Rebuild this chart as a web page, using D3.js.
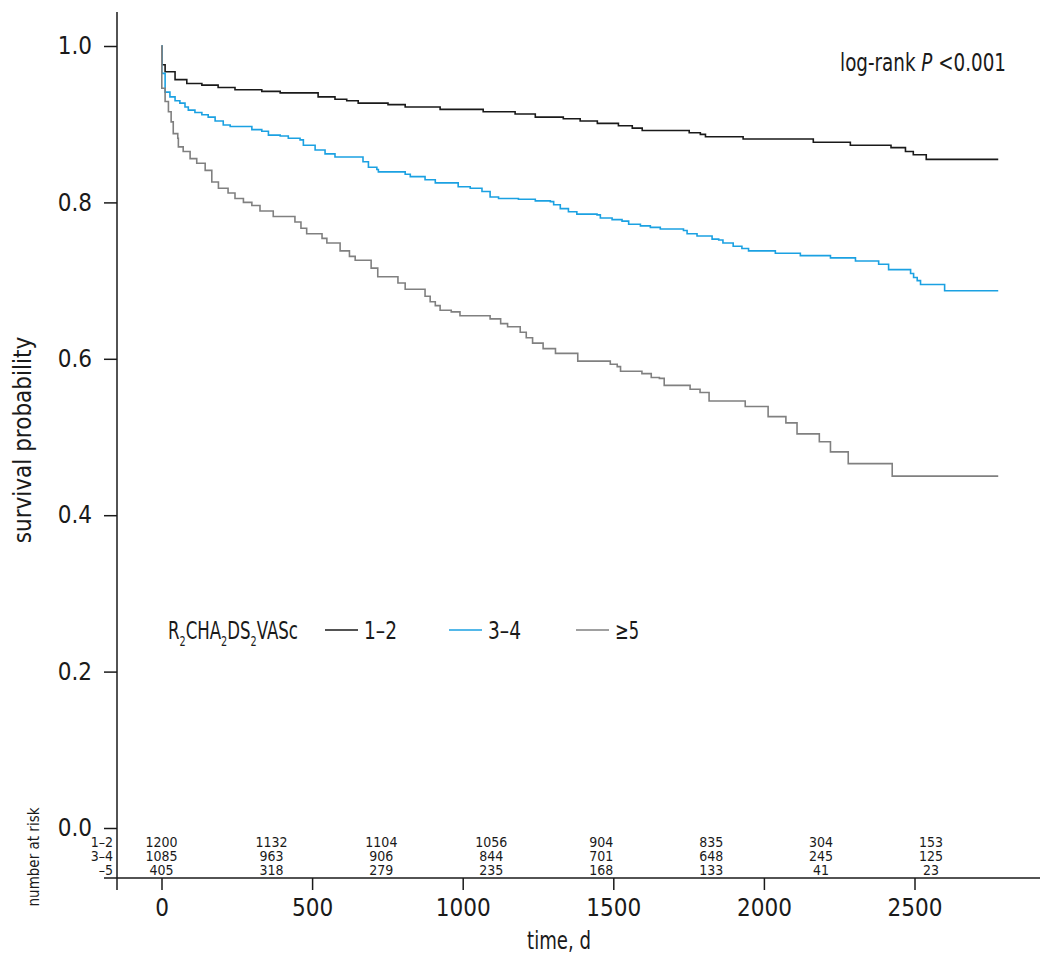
<!DOCTYPE html>
<html>
<head>
<meta charset="utf-8">
<script src="https://cdn.jsdelivr.net/npm/d3@7"></script>
<style>
  body { margin: 0; background: #fff; }
  text { font-family: "Liberation Sans Narrow", "DejaVu Sans Condensed", sans-serif; fill: #1a1a1a; }
</style>
</head>
<body>
<script>
// Kaplan-Meier curves by R2CHA2DS2VASc group

// [time in days, survival] step points
var group12 = [[0,1],[1,0.976],[12,0.967],[45,0.957],[84,0.952],[134,0.950],[188,0.947],[244,0.944],
  [333,0.942],[394,0.940],[520,0.935],[576,0.932],[615,0.930],[653,0.927],[752,0.925],[809,0.922],
  [925,0.919],[1068,0.916],[1174,0.913],[1241,0.909],[1334,0.907],[1390,0.904],[1447,0.901],
  [1517,0.898],[1563,0.895],[1596,0.892],[1752,0.889],[1789,0.887],[1806,0.884],[1931,0.881],
  [2164,0.877],[2287,0.873],[2422,0.870],[2470,0.865],[2496,0.861],[2539,0.855],[2778,0.855]];

var group34 = [[0,1],[1,0.965],[12,0.941],[28,0.935],[45,0.930],[61,0.927],[78,0.922],[89,0.918],
  [111,0.915],[134,0.912],[155,0.909],[178,0.904],[205,0.899],[228,0.897],[300,0.893],[333,0.891],
  [355,0.886],[394,0.885],[421,0.882],[460,0.880],[471,0.873],[510,0.867],[543,0.862],[576,0.858],
  [669,0.852],[687,0.845],[715,0.842],[720,0.839],[809,0.836],[826,0.833],[875,0.829],[909,0.825],
  [985,0.820],[1025,0.818],[1064,0.814],[1091,0.807],[1119,0.805],[1185,0.804],[1241,0.802],
  [1291,0.801],[1302,0.797],[1324,0.792],[1351,0.788],[1379,0.785],[1446,0.784],[1457,0.780],
  [1496,0.778],[1529,0.776],[1551,0.772],[1590,0.770],[1623,0.768],[1656,0.766],[1733,0.764],
  [1745,0.760],[1778,0.757],[1828,0.753],[1850,0.752],[1864,0.748],[1898,0.744],[1927,0.741],
  [1949,0.738],[2038,0.735],[2121,0.732],[2221,0.729],[2304,0.725],[2381,0.721],[2414,0.714],
  [2487,0.709],[2497,0.704],[2509,0.700],[2520,0.695],[2600,0.687],[2778,0.687]];

var group5 = [[0,1],[1,0.946],[12,0.929],[23,0.916],[32,0.903],[39,0.888],[54,0.882],[56,0.871],
  [72,0.865],[95,0.856],[117,0.850],[145,0.841],[167,0.826],[189,0.818],[221,0.812],[244,0.805],
  [272,0.800],[300,0.796],[327,0.789],[371,0.782],[443,0.775],[463,0.767],[482,0.760],[533,0.754],
  [549,0.748],[593,0.738],[624,0.731],[643,0.726],[696,0.716],[718,0.705],[785,0.697],[809,0.689],
  [875,0.680],[892,0.673],[909,0.668],[925,0.662],[962,0.660],[991,0.655],[1091,0.651],[1126,0.645],
  [1149,0.641],[1191,0.634],[1211,0.627],[1232,0.620],[1267,0.613],[1308,0.607],[1382,0.597],
  [1490,0.593],[1513,0.590],[1524,0.584],[1595,0.581],[1626,0.576],[1653,0.575],[1669,0.566],
  [1755,0.561],[1788,0.557],[1818,0.546],[1938,0.539],[2014,0.526],[2073,0.518],[2110,0.504],
  [2184,0.494],[2221,0.481],[2280,0.466],[2426,0.450],[2778,0.450]];

var groupNames = ["1\u20132", "3\u20134", "\u22655"];
var groupColors = ["#1a1a1a", "#1ba1e2", "#808080"];
var riskRowLabels = ["1\u20132", "3\u20134", "\u20135"];

var riskTimes = [0, 365, 730, 1095, 1460, 1825, 2190, 2555];
var riskCounts = [
  [1200, 1132, 1104, 1056, 904, 835, 304, 153],
  [1085, 963, 906, 844, 701, 648, 245, 125],
  [405, 318, 279, 235, 168, 133, 41, 23]
];

var xTicks = [0, 500, 1000, 1500, 2000, 2500];
var yTicks = [0, 0.2, 0.4, 0.6, 0.8, 1.0];

var width = 1042, height = 954;

var svg = d3.select("body").append("svg")
  .attr("width", width)
  .attr("height", height);

var x = d3.scaleLinear().domain([0, 2500]).range([161.5, 914.5]);
var y = d3.scaleLinear().domain([0, 1]).range([828, 46]);

var axisX = 117, baseY = 878;

// squeeze a text element horizontally so it is w pixels wide (the original font is condensed)
function fitWidth(sel, px, py, w) {
  var len = sel.node().getComputedTextLength();
  sel.attr("x", 0).attr("y", 0)
     .attr("transform", "translate(" + px + "," + py + ") scale(" + (w / len) + ",1)");
}

// y axis
var gy = svg.append("g")
  .attr("transform", "translate(" + axisX + ",0)")
  .call(d3.axisLeft(y).tickValues(yTicks).tickSize(13).tickPadding(12).tickFormat(d3.format(".1f")));
gy.select(".domain").remove();
gy.selectAll(".tick line").attr("stroke", "#1a1a1a").attr("stroke-width", 1.5);
gy.selectAll(".tick text").style("font-size", "24px").attr("fill", "#1a1a1a");

svg.append("line")
  .attr("x1", axisX).attr("x2", axisX)
  .attr("y1", 12).attr("y2", 890)
  .attr("stroke", "#1a1a1a").attr("stroke-width", 1.5);

// x axis (below the risk table)
var gx = svg.append("g")
  .attr("transform", "translate(0," + baseY + ")")
  .call(d3.axisBottom(x).tickValues(xTicks).tickSize(12).tickPadding(9).tickFormat(d3.format("d")));
gx.select(".domain").remove();
gx.selectAll(".tick line").attr("stroke", "#1a1a1a").attr("stroke-width", 1.5);
gx.selectAll(".tick text").style("font-size", "24px").attr("fill", "#1a1a1a");

svg.append("line")
  .attr("x1", 104).attr("x2", 1040)
  .attr("y1", baseY).attr("y2", baseY)
  .attr("stroke", "#1a1a1a").attr("stroke-width", 1.5);

// curves
var line = d3.line()
  .x(function(d) { return x(d[0]); })
  .y(function(d) { return y(d[1]); })
  .curve(d3.curveStepAfter);

[group12, group34, group5].forEach(function(g, i) {
  svg.append("path")
    .datum(g)
    .attr("d", line)
    .attr("fill", "none")
    .attr("stroke", groupColors[i])
    .attr("stroke-width", 1.6);
});

// axis titles
svg.append("text")
  .attr("transform", "translate(31,440) rotate(-90)")
  .attr("text-anchor", "middle")
  .style("font-size", "24px")
  .text("survival probability");

var tl = svg.append("text")
  .attr("text-anchor", "middle")
  .style("font-size", "24px")
  .text("time, d");
fitWidth(tl, 559, 949, 64);

var lr = svg.append("text")
  .attr("text-anchor", "end")
  .style("font-size", "24px");
lr.append("tspan").text("log-rank ");
lr.append("tspan").style("font-style", "italic").text("P");
lr.append("tspan").text(" <0.001");
fitWidth(lr, 1006, 71, 166);

// legend
var leg = svg.append("text")
  .style("font-size", "24px");
["R", "2", "CHA", "2", "DS", "2", "VASc"].forEach(function(s, i) {
  var t = leg.append("tspan").text(s);
  if (i % 2 == 1) t.style("font-size", "14px").attr("dy", 7);
  else if (i > 0) t.attr("dy", -7);
});
fitWidth(leg, 168, 639, 130);

var legLineX = [325, 449, 576];
groupNames.forEach(function(n, i) {
  svg.append("line")
    .attr("x1", legLineX[i]).attr("x2", legLineX[i] + 33)
    .attr("y1", 630).attr("y2", 630)
    .attr("stroke", groupColors[i]).attr("stroke-width", 1.6);
  var t = svg.append("text")
    .style("font-size", "24px")
    .text(n);
  fitWidth(t, legLineX[i] + 39, 639, i < 2 ? 33 : 24);
});

// number at risk table
svg.append("text")
  .attr("transform", "translate(39,857) rotate(-90)")
  .attr("text-anchor", "middle")
  .style("font-size", "15px")
  .text("number at risk");

var rowY = [847, 861, 875];
riskCounts.forEach(function(row, r) {
  svg.append("text")
    .attr("x", 113).attr("y", rowY[r])
    .attr("text-anchor", "end")
    .style("font-size", "14px")
    .text(riskRowLabels[r]);
  row.forEach(function(c, j) {
    svg.append("text")
      .attr("x", x(riskTimes[j])).attr("y", rowY[r])
      .attr("text-anchor", "middle")
      .style("font-size", "14px")
      .text(c);
  });
});
</script>
</body>
</html>
